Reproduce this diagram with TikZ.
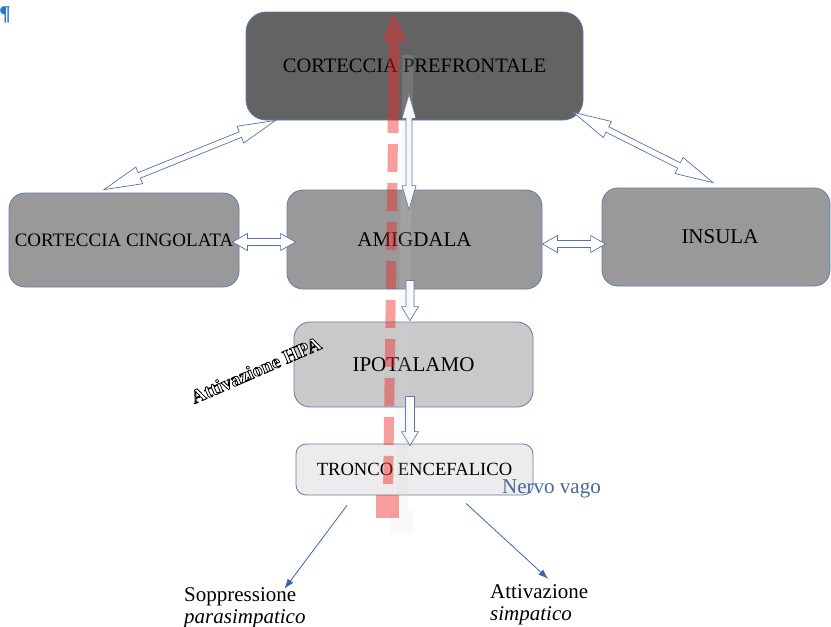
\documentclass[tikz,border=0pt]{standalone}
\usepackage{fontspec}
\setmainfont{Liberation Serif}
\usetikzlibrary{calc,arrows.meta}

\definecolor{boxline}{RGB}{95,125,170}
\definecolor{arrline}{RGB}{85,115,165}
\definecolor{darkbox}{RGB}{99,99,99}
\definecolor{midbox}{RGB}{153,153,153}
\definecolor{lightbox}{RGB}{201,201,201}
\definecolor{palebox}{RGB}{236,236,236}
\definecolor{hpared}{RGB}{240,40,40}
\definecolor{shadowgray}{RGB}{215,215,215}
\definecolor{vagus}{RGB}{70,105,150}
\definecolor{pilcrow}{RGB}{40,120,200}
\definecolor{thinblue}{RGB}{60,100,170}

% hollow double-headed block arrow: from, to, shaft half-width, head half-width, head length
\newcommand{\dualarrow}[5]{%
  \draw[harrow] (#1)
    -- ($(#1)!#5!(#2)!#4!90:(#2)$) -- ($(#1)!#5!(#2)!#3!90:(#2)$)
    -- ($(#2)!#5!(#1)!#3!-90:(#1)$) -- ($(#2)!#5!(#1)!#4!-90:(#1)$)
    -- (#2)
    -- ($(#2)!#5!(#1)!#4!90:(#1)$) -- ($(#2)!#5!(#1)!#3!90:(#1)$)
    -- ($(#1)!#5!(#2)!#3!-90:(#2)$) -- ($(#1)!#5!(#2)!#4!-90:(#2)$)
    -- cycle;}
% hollow single-headed block arrow
\newcommand{\monoarrow}[5]{%
  \draw[harrow] ($(#1)!#3!90:(#2)$)
    -- ($(#2)!#5!(#1)!#3!-90:(#1)$) -- ($(#2)!#5!(#1)!#4!-90:(#1)$)
    -- (#2)
    -- ($(#2)!#5!(#1)!#4!90:(#1)$) -- ($(#2)!#5!(#1)!#3!90:(#1)$)
    -- ($(#1)!#3!-90:(#2)$) -- cycle;}
% outlined lettering: white fill, black stroke (PDF text render mode 2)
\newcommand{\outlinedtext}[1]{%
  \special{pdf:literal direct 1 g 0 G 0.8 w 1 j 2 Tr}#1\special{pdf:literal direct 0 Tr}}

\begin{document}
\begin{tikzpicture}[x=1pt,y=-1pt,
  region/.style={draw=boxline, line width=0.8pt, rounded corners=16pt,
    inner sep=0pt, text=black, font=\fontsize{21}{24}\selectfont},
  harrow/.style={draw=arrline, fill=white, line width=0.7pt, line join=miter},
  lab/.style={inner sep=0pt, text=black, font=\fontsize{21}{24}\selectfont},
  hpa/.style={inner sep=0pt, rotate=23.5, font=\fontsize{19.5}{24}\selectfont\bfseries},
  redpart/.style={hpared, opacity=0.45},
  shade/.style={shadowgray, opacity=0.16},
  thin link/.style={thinblue, line width=0.8pt, -{Latex[length=10pt,width=7pt]}}]
\useasboundingbox (0,0) rectangle (831,627);

\node[inner sep=0pt, text=pilcrow, font=\fontsize{21}{22}\selectfont\bfseries] (pil) at (5,15) {¶};

% brain regions
\node[region, fill=darkbox, minimum width=337pt, minimum height=108pt,
  rounded corners=20pt, font=\fontsize{20.5}{24}\selectfont] (pref) at (414.5,66) {CORTECCIA PREFRONTALE};
\node[region, fill=midbox, minimum width=230pt, minimum height=94pt,
  font=\fontsize{19}{24}\selectfont] (cing) at (124,240) {CORTECCIA CINGOLATA};
\node[region, fill=midbox, minimum width=255pt, minimum height=99pt] (amig) at (414.5,239.5) {AMIGDALA};
\node[region, fill=midbox, minimum width=228pt, minimum height=98pt] (insula) at (716,237) {\hspace*{8pt}INSULA};
\node[region, fill=lightbox, minimum width=239pt, minimum height=85pt] (ipot) at (413.5,364.5) {IPOTALAMO};
\node[region, fill=palebox, minimum width=237pt, minimum height=51pt,
  rounded corners=10pt, font=\fontsize{18.6}{22}\selectfont] (tronco) at (414.5,469.5) {TRONCO ENCEFALICO};

% arrow end points
\coordinate (pc1) at ($(pref.south west)+(30,0)$);
\coordinate (pc2) at ($(cing.north)+(-20,-3)$);
\coordinate (pi1) at ($(pref.south east)+(-10,-8)$);
\coordinate (pi2) at ($(insula.north)+(-3,-5)$);
\coordinate (pa1) at ($(pref.south)+(-5.5,-26)$);
\coordinate (pa2) at ($(amig.north)+(-5.5,20)$);
\coordinate (ca1) at ($(cing.east)+(-7,2)$);
\coordinate (ca2) at ($(amig.west)+(9,2.5)$);
\coordinate (ai1) at ($(amig.east)+(0,4.5)$);
\coordinate (ai2) at ($(insula.west)+(4,7)$);
\coordinate (ah1) at ($(amig.south)+(-4.5,-9)$);
\coordinate (ah2) at ($(ipot.north)+(-3.5,-1)$);
\coordinate (ht1) at ($(ipot.south)+(-3.5,-11)$);
\coordinate (ht2) at ($(tronco.north)+(-4.5,2)$);

\dualarrow{pc1}{pc2}{3pt}{9pt}{38pt}
\dualarrow{pi1}{pi2}{3pt}{9pt}{38pt}
\dualarrow{pa1}{pa2}{3pt}{7pt}{24pt}
\dualarrow{ca1}{ca2}{3.5pt}{8.5pt}{15pt}
\dualarrow{ai1}{ai2}{3.5pt}{8.5pt}{15pt}
\monoarrow{ah1}{ah2}{4pt}{8.5pt}{14pt}
\monoarrow{ht1}{ht2}{4.5pt}{8.5pt}{14pt}

% soft shadow of the ascending pathway
\draw[shade, line width=11pt] (408,55) -- (402,510);
\fill[shade] (390,510) rectangle (413,533);

% ascending pathway
\fill[redpart] (394,13) -- (406,41) -- (382,41) -- cycle;
\draw[redpart, line width=11pt] (394,41) -- (393,133);
\draw[redpart, line width=10pt, dash pattern=on 28pt off 11pt, dash phase=28pt] (393,133) -- (388,495);
\fill[redpart] (376,495) rectangle (399,518);

% outlined label
\node[hpa, text=white] (hpa) at (256,370) {\outlinedtext{Attivazione HPA}};

\node[lab, text=vagus, anchor=base west] (vago) at (502,493) {Nervo vago};

% autonomic outputs
\node[lab, anchor=base west] (sopp) at (184,601) {Soppressione};
\node[lab, anchor=base west, font=\fontsize{21}{24}\selectfont\itshape] (para) at (184,623) {parasimpatico};
\node[lab, anchor=base west] (attiv) at (490,598) {Attivazione};
\node[lab, anchor=base west, font=\fontsize{21}{24}\selectfont\itshape] (simp) at (490,620) {simpatico};

\coordinate (tL) at ($(tronco.south)+(-67.5,10)$);
\coordinate (tR) at ($(tronco.south)+(51.5,8)$);
\coordinate (sL) at ($(sopp.north east)+(-12,2)$);
\coordinate (sR) at ($(attiv.north)+(9,-5)$);
\draw[thin link] (tL) -- (sL);
\draw[thin link] (tR) -- (sR);
\end{tikzpicture}
\end{document}
